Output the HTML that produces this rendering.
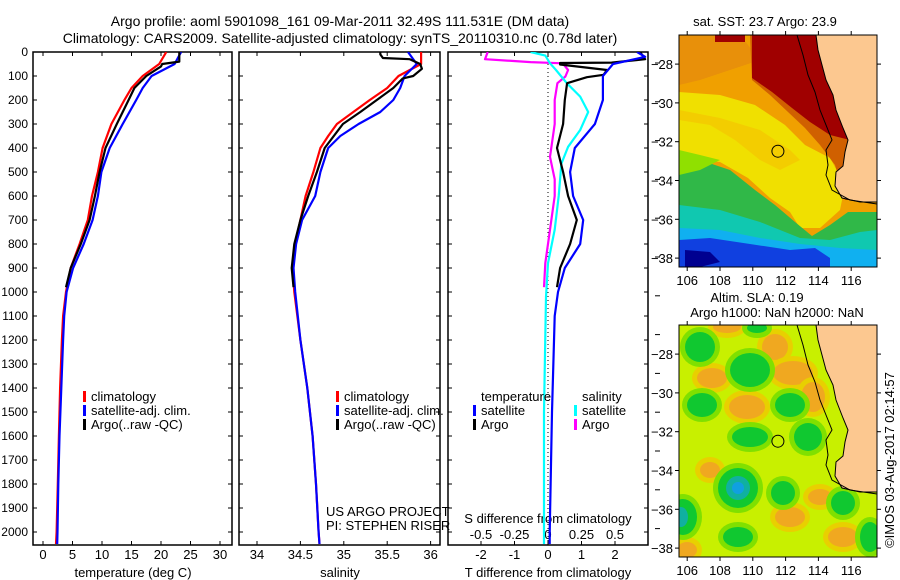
<!DOCTYPE html>
<html><head><meta charset="utf-8"><style>
html,body{margin:0;padding:0;background:#fff;}
svg{display:block;font-family:"Liberation Sans",sans-serif;}
</style></head><body>
<svg id="c" width="900" height="580" viewBox="0 0 900 580">
<rect x="0" y="0" width="900" height="580" fill="#fff"/>
<text x="340" y="26" font-size="14" text-anchor="middle">Argo profile: aoml 5901098_161 09-Mar-2011 32.49S 111.531E (DM data)</text>
<text x="340" y="43" font-size="14" text-anchor="middle">Climatology: CARS2009. Satellite-adjusted climatology: synTS_20110310.nc (0.78d later)</text>
<g id="maps"></g>
<g id="plots"></g>
</svg>
<script>
// ---------- data ----------
const depthTicks = [0,100,200,300,400,500,600,700,800,900,1000,1100,1200,1300,1400,1500,1600,1700,1800,1900,2000];
const tempTicks = [0,5,10,15,20,25,30];
const salTicks = [34,34.5,35,35.5,36];
const salTickLabels = ["34","34.5","35","35.5","36"];
const dtTicks = [-2,-1,0,1,2];
const dsTicks = [-0.5,-0.25,0,0.25,0.5];
const dsTickLabels = ["-0.5","-0.25","0","0.25","0.5"];

const climDepth = [0,50,100,150,200,300,400,500,600,700,800,900,1000,1100,1200,1400,1600,1800,2000,2050];
const climTemp  = [20.9,19.7,16.9,15,13.8,11.6,10.1,9.3,8.3,7.6,6.2,4.7,3.9,3.4,3.2,2.9,2.7,2.5,2.3,2.2];
const satTemp   = [23.4,22.3,18.4,16.9,15.8,13.5,11.3,9.9,9.3,8.4,6.9,5.1,4.0,3.6,3.4,3.1,2.8,2.6,2.45,2.4];
const argoDepth = [0,40,50,60,100,150,200,300,400,500,600,700,800,900,980];
const argoTemp  = [23.1,23.1,20.2,20.0,17.5,15.5,14.5,12.5,10.6,9.6,8.8,7.9,6.4,4.7,3.9];

const climSalDepth = [0,50,100,150,200,250,300,350,400,500,600,700,800,900,1000,1200,1400,1600,1800,2000,2050];
const climSal = [35.89,35.89,35.63,35.5,35.3,35.11,34.92,34.82,34.73,34.65,34.56,34.5,34.44,34.41,34.43,34.5,34.58,34.64,34.68,34.71,34.72];
const satSal  = [35.74,35.84,35.7,35.65,35.57,35.42,35.17,34.96,34.82,34.73,34.67,34.52,34.45,34.42,34.44,34.5,34.58,34.64,34.68,34.71,34.72];
const argoSalDepth = [0,10,25,30,50,70,100,110,150,200,250,300,400,500,600,700,800,900,980];
const argoSal = [35.42,35.42,35.45,35.76,35.88,35.9,35.8,35.68,35.57,35.38,35.19,34.99,34.78,34.69,34.59,34.5,34.43,34.4,34.42];

const diffSatDepth = [0,20,50,80,100,200,300,400,500,600,700,800,900,1000,1100,1500,2000,2050];
const diffSatT = [2.66,2.9,1.94,1.76,1.64,1.64,1.4,0.8,0.66,0.75,1.05,0.96,0.5,0.3,0.2,0.12,0.05,0.05];
const diffArgoDepth = [0,30,44,46,52,75,95,105,130,200,300,400,500,600,700,800,900,980];
const diffArgoT = [2.75,2.9,1.9,0.36,0.36,1.76,1.66,1.16,0.57,0.5,0.45,0.27,0.45,0.6,0.86,0.66,0.36,0.27];
const diffSatSDepth = [0,15,47,75,130,186,250,325,395,465,600,740,880,1020,1500,2050];
const diffSatS = [-0.13,-0.02,0.015,0.06,0.14,0.24,0.3,0.24,0.15,0.1,0.08,0.05,0,-0.015,-0.03,-0.03];
const diffArgoSDepth = [0,30,42,47,75,102,130,200,300,437,530,600,740,880,980];
const diffArgoS = [-0.45,-0.47,-0.13,0.11,0.15,0.13,0.07,0.05,0.05,0.015,0.05,0.05,0.015,-0.02,-0.03];

const mapLonTicks = [106,108,110,112,114,116];
const mapLatTicks = [-28,-30,-32,-34,-36,-38];
const argoLon = 111.531, argoLat = -32.49;

// ---------- helpers ----------
const NS='http://www.w3.org/2000/svg';
const svg=document.getElementById('c');
const plots=document.getElementById('plots');
const maps=document.getElementById('maps');
function mk(tag,attrs,parent){const e=document.createElementNS(NS,tag);for(const k in attrs)e.setAttribute(k,attrs[k]);(parent||plots).appendChild(e);return e;}
const TOP=52, BOT=545;
const yD=d=>TOP+d*0.24;
const xT=t=>43+t*5.9;
const xS=s=>257+(s-34)*86.8;
const xDT=t=>548+t*33.5;
const xDS=s=>548+s*134;
const panels=[{l:33,r:232,n:'temperature'},{l:239,r:440,n:'salinity'},{l:448,r:648,n:'difference'}];

const defs=mk('defs',{});
panels.forEach((p,i)=>{const cp=mk('clipPath',{id:'cp'+i},defs);mk('rect',{x:p.l,y:TOP,width:p.r-p.l,height:BOT-TOP},cp);});

function line(xs,ds,fx,color,name,pi,extra){
  const pts=xs.map((v,i)=>fx(v).toFixed(1)+','+yD(ds[i]).toFixed(1)).join(' ');
  const e=mk('polyline',Object.assign({points:pts,fill:'none',stroke:color,'stroke-width':2.2,'stroke-linejoin':'round','clip-path':'url(#cp'+pi+')'},extra||{}));
  
  
  return e;
}
function txt(x,y,s,anchor,size,name){
  const e=mk('text',{x:x,y:y,'font-size':size||12,'text-anchor':anchor||'start'});
  e.textContent=s;
  
  
  return e;
}

panels.forEach((p,i)=>{
  const f=mk('rect',{x:p.l,y:TOP,width:p.r-p.l,height:BOT-TOP,fill:'none',stroke:'#000','stroke-width':1.5});
  
  
  depthTicks.forEach(d=>{
    mk('line',{x1:p.l,x2:p.l+4,y1:yD(d),y2:yD(d),stroke:'#000'});
    mk('line',{x1:p.r-4,x2:p.r,y1:yD(d),y2:yD(d),stroke:'#000'});
  });
});
depthTicks.forEach(d=>{txt(28,yD(d)+4,String(d),'end',12,'depth-tick-label');});

tempTicks.forEach(t=>{
  mk('line',{x1:xT(t),x2:xT(t),y1:TOP,y2:TOP+4,stroke:'#000'});
  mk('line',{x1:xT(t),x2:xT(t),y1:BOT-4,y2:BOT,stroke:'#000'});
  txt(xT(t),559,String(t),'middle',13,'temperature-tick-label');
});
txt(133,577,'temperature (deg C)','middle',13,'temperature-axis-title');
salTicks.forEach((s,i)=>{
  mk('line',{x1:xS(s),x2:xS(s),y1:TOP,y2:TOP+4,stroke:'#000'});
  mk('line',{x1:xS(s),x2:xS(s),y1:BOT-4,y2:BOT,stroke:'#000'});
  txt(xS(s),559,salTickLabels[i],'middle',13,'salinity-tick-label');
});
txt(340,577,'salinity','middle',13,'salinity-axis-title');
dtTicks.forEach(t=>{
  mk('line',{x1:xDT(t),x2:xDT(t),y1:TOP,y2:TOP+4,stroke:'#000'});
  mk('line',{x1:xDT(t),x2:xDT(t),y1:BOT-4,y2:BOT,stroke:'#000'});
  txt(xDT(t),559,String(t),'middle',13,'t-difference-tick-label');
});
dsTicks.forEach((s,i)=>{txt(xDS(s),539,dsTickLabels[i],'middle',13,'s-difference-tick-label');});
txt(548,523,'S difference from climatology','middle',13,'s-difference-axis-title');
txt(548,577,'T difference from climatology','middle',13,'t-difference-axis-title');
for(let y=63;y<550;y+=38.8){mk('line',{x1:655,x2:660,y1:y,y2:y,stroke:'#000'});}
const zl=mk('line',{x1:xDT(0),x2:xDT(0),y1:TOP,y2:BOT,stroke:'#000','stroke-dasharray':'1,3'});



line(climTemp,climDepth,xT,'#ff0000','climatology-temperature-line',0);
line(satTemp,climDepth,xT,'#0000ff','satellite-temperature-line',0);
line(argoTemp,argoDepth,xT,'#000000','argo-temperature-line',0);
line(climSal,climSalDepth,xS,'#ff0000','climatology-salinity-line',1);
line(satSal,climSalDepth,xS,'#0000ff','satellite-salinity-line',1);
line(argoSal,argoSalDepth,xS,'#000000','argo-salinity-line',1);
line(diffArgoS,diffArgoSDepth,xDS,'#ff00ff','argo-s-difference-line',2);
line(diffSatS,diffSatSDepth,xDS,'#00ffff','satellite-s-difference-line',2);
line(diffArgoT,diffArgoDepth,xDT,'#000000','argo-t-difference-line',2);
line(diffSatT,diffSatDepth,xDT,'#0000ff','satellite-t-difference-line',2);

function leg(x,y,color,label,name){
  const b=mk('rect',{x:x,y:y-10,width:3,height:11,fill:color});
  
  
  txt(x+8,y,label,'start',13,name+'-label');
}
leg(83,401,'#ff0000','climatology','legend-climatology');
leg(83,415,'#0000ff','satellite-adj. clim.','legend-satellite');
leg(83,429,'#000000','Argo(..raw -QC)','legend-argo');
leg(336,401,'#ff0000','climatology','legend-climatology-2');
leg(336,415,'#0000ff','satellite-adj. clim.','legend-satellite-2');
leg(336,429,'#000000','Argo(..raw -QC)','legend-argo-2');
txt(481,401,'temperature','start',13,'legend-temperature-heading');
leg(473,415,'#0000ff','satellite','legend-t-satellite');
leg(473,429,'#000000','Argo','legend-t-argo');
txt(582,401,'salinity','start',13,'legend-salinity-heading');
leg(574,415,'#00ffff','satellite','legend-s-satellite');
leg(574,429,'#ff00ff','Argo','legend-s-argo');
txt(326,516,'US ARGO PROJECT','start',13,'project-label');
txt(326,530,'PI: STEPHEN RISER','start',13,'pi-label');

// ---------- maps ----------
const ML=679, MR=877;
const mx=lon=>ML+(lon-105.5)*16.4;
function drawMap(top,kind){
  const my=lat=>top+(-26.5-lat)*19.4;
  const g=mk('g',{},maps);
  
  
  const cid='mc'+kind;
  const cp=mk('clipPath',{id:cid},g);mk('rect',{x:ML,y:top,width:MR-ML,height:232},cp);
  const c=mk('g',{'clip-path':'url(#'+cid+')'},g);
  const o=top-35;
  const P=s=>s.split(' ').map(p=>{const [a,b]=p.split(',');return a+','+(+b+o);}).join(' ');
  if(kind==='sst'){
    mk('rect',{x:ML,y:top,width:198,height:232,fill:'#f0a000'},c);
    mk('polygon',{points:P('679,35 740,35 760,60 700,80 679,85'),fill:'#e8900a'},c);
    mk('polygon',{points:P('679,92 720,95 755,105 785,125 805,145 830,158 845,185 840,210 820,228 800,228 790,212 770,198 748,178 720,162 679,158'),fill:'#f0e000'},c);
    mk('polygon',{points:P('679,120 710,125 735,140 760,160 780,170 800,160 790,150 760,130 720,118 679,110'),fill:'#f4c800',opacity:0.8},c);
    mk('polygon',{points:P('679,155 700,160 730,170 755,190 775,205 795,222 812,236 830,225 848,212 877,212 877,267 679,267'),fill:'#30b848'},c);
    mk('polygon',{points:P('679,150 700,155 720,160 700,170 679,175'),fill:'#90e000'},c);
    mk('polygon',{points:P('679,205 720,210 760,222 800,238 830,240 860,232 877,230 877,267 679,267'),fill:'#10c8b0'},c);
    mk('polygon',{points:P('679,228 720,230 760,238 800,244 840,248 877,250 877,267 679,267'),fill:'#10b0f0'},c);
    mk('polygon',{points:P('679,240 710,238 750,244 790,250 815,248 830,258 830,267 679,267'),fill:'#1040e0'},c);
    mk('polygon',{points:P('685,250 710,252 720,262 700,267 685,267'),fill:'#000090'},c);
    mk('polygon',{points:P('750,35 877,35 877,200 845,200 835,165 820,145 805,128 788,112 770,95 752,80'),fill:'#d06000'},c);
    mk('polygon',{points:P('752,35 877,35 877,140 850,140 830,135 810,122 792,108 772,92 752,78'),fill:'#a00000'},c);
    mk('polygon',{points:P('715,35 745,35 745,42 715,42'),fill:'#a00000'},c);
  } else {
    mk('rect',{x:ML,y:top,width:198,height:232,fill:'#c8f000'},c);
    const og=[[775,347,13,13],[793,373,20,12],[813,397,12,15],[712,378,15,10],[747,407,18,12],[727,327,14,6],[790,517,15,10],[843,537,15,10],[687,550,10,8],[820,497,12,8],[710,470,10,8]];
    og.forEach(b=>{
      mk('ellipse',{cx:b[0],cy:b[1]-325+top,rx:b[2]+5,ry:b[3]+5,fill:'#e8d000'},c);
      mk('ellipse',{cx:b[0],cy:b[1]-325+top,rx:b[2],ry:b[3],fill:'#f0a820'},c);
    });
    const gb=[[700,347,15,15],[750,370,20,17],[702,405,15,12],[790,405,15,12],[750,437,18,10],[808,437,14,14],[738,488,20,20],[783,493,12,12],[683,517,14,18],[738,537,15,10],[843,503,12,12],[870,537,10,15],[757,328,10,5]];
    gb.forEach(b=>{
      mk('ellipse',{cx:b[0],cy:b[1]-325+top,rx:b[2]+5,ry:b[3]+5,fill:'#80e000'},c);
      mk('ellipse',{cx:b[0],cy:b[1]-325+top,rx:b[2],ry:b[3],fill:'#10c830'},c);
    });
    mk('ellipse',{cx:738,cy:488-325+top,rx:12,ry:12,fill:'#10b0a0'},c);
    mk('ellipse',{cx:738,cy:488-325+top,rx:6,ry:6,fill:'#10a0e0'},c);
    mk('ellipse',{cx:681,cy:517-325+top,rx:7,ry:10,fill:'#10b0a0'},c);
  }
  const land=mk('polygon',{points:P('816,35 877,35 877,202 860,202 842,198 835,186 836,172 843,166 845,152 848,140 843,128 836,110 833,95 826,80 822,65 818,50'),fill:'#fcc890'},c);
  
  
  mk('polyline',{points:P('816,35 818,50 822,65 826,80 833,95 836,110 843,128 848,140 845,152 843,166 836,172 835,186 842,198 860,202 877,202'),fill:'none',stroke:'#000','stroke-width':1},c);
  mk('polyline',{points:P('797,35 803,55 808,75 815,92 820,110 828,130 832,140 826,150 828,165 826,175 832,190 850,200 877,204'),fill:'none',stroke:'#000','stroke-width':1},c);
  mk('rect',{x:ML,y:top,width:MR-ML,height:232,fill:'none',stroke:'#000','stroke-width':1},g);
  mapLonTicks.forEach(l=>{
    mk('line',{x1:mx(l),x2:mx(l),y1:top-4,y2:top,stroke:'#000'},g);
    mk('line',{x1:mx(l),x2:mx(l),y1:top+232,y2:top+236,stroke:'#000'},g);
    const t=mk('text',{x:mx(l),y:top+250,'font-size':13,'text-anchor':'middle'},g);t.textContent=String(l);
    
    
  });
  mapLatTicks.forEach(l=>{
    mk('line',{x1:ML-4,x2:ML,y1:my(l),y2:my(l),stroke:'#000'},g);
    mk('line',{x1:MR,x2:MR+4,y1:my(l),y2:my(l),stroke:'#000'},g);
    const t=mk('text',{x:673,y:my(l)+5,'font-size':13,'text-anchor':'end'},g);t.textContent=String(l).replace('-','\u2212');
    
    
  });
  const m=mk('circle',{cx:mx(argoLon),cy:my(argoLat),r:6,fill:'none',stroke:'#000','stroke-width':1},g);
  
  
}
drawMap(35,'sst');
drawMap(325,'sla');
txt(765,26,'sat. SST: 23.7 Argo: 23.9','middle',13,'sst-map-title');
txt(757,302,'Altim. SLA: 0.19','middle',13,'sla-map-title');
txt(777,317,'Argo h1000: NaN h2000: NaN','middle',13,'sla-map-subtitle');
const cr=txt(0,0,'\u00a9IMOS 03-Aug-2017 02:14:57','middle',13,'copyright-label');
cr.setAttribute('transform','translate(894,460) rotate(-90)');
</script>
</body></html>
